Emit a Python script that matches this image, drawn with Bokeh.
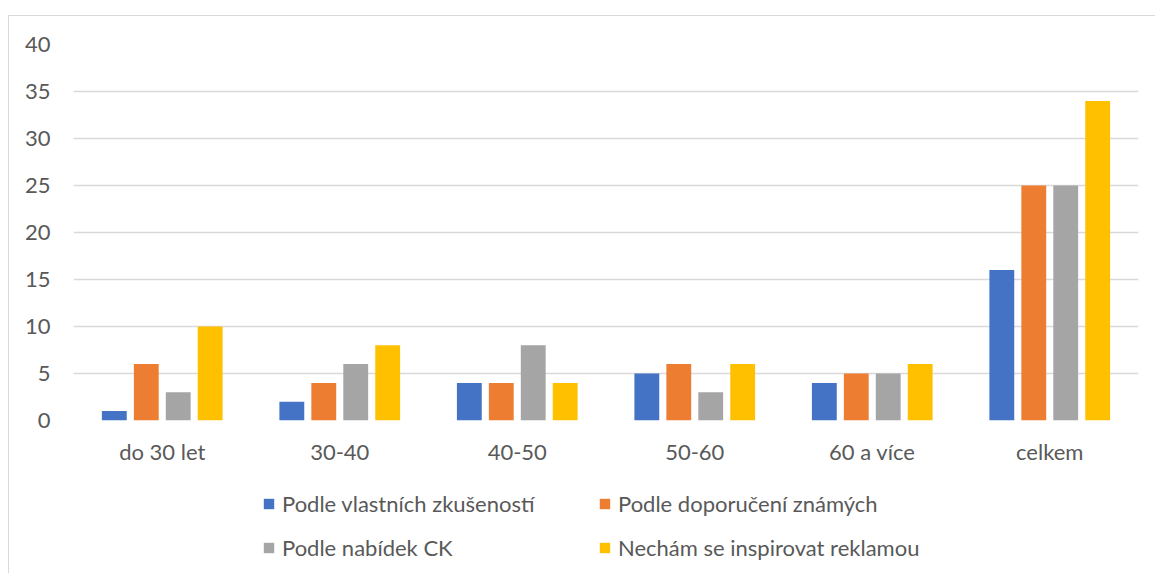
from bokeh.plotting import figure
from bokeh.models import ColumnDataSource, Legend, LegendItem, FactorRange
from bokeh.layouts import column
from bokeh.transform import dodge
from bokeh.embed import file_html
from bokeh.resources import INLINE

categories = ["do 30 let", "30-40", "40-50", "50-60", "60 a více", "celkem"]
series_names = ["Podle vlastních zkušeností", "Podle doporučení známých",
                "Podle nabídek CK", "Nechám se inspirovat reklamou"]
vlastni = [1, 2, 4, 5, 4, 16]
doporuceni = [6, 4, 4, 6, 5, 25]
nabidky = [3, 6, 8, 3, 5, 25]
reklama = [10, 8, 4, 6, 6, 34]
y_ticks = [0, 5, 10, 15, 20, 25, 30, 35, 40]

colors = ["#4472C4", "#ED7D31", "#A5A5A5", "#FFC000"]
offsets = [-0.27, -0.09, 0.09, 0.27]
FONT = "Lato"
TXT = "#595959"
BORDER = "1px solid #d9d9d9"

src = ColumnDataSource(dict(cat=categories, s0=vlastni, s1=doporuceni, s2=nabidky, s3=reklama))

p = figure(x_range=FactorRange(*categories, range_padding=0), y_range=(0, 40),
           width=1147, height=454, output_backend="svg", toolbar_location=None,
           min_border_left=64, min_border_right=18, min_border_top=28, min_border_bottom=50)
p.margin = (15, 0, 0, 8)
p.styles = {"border-top": BORDER, "border-left": BORDER}
p.outline_line_color = None
p.background_fill_color = "white"
p.border_fill_color = "white"

for i, key in enumerate(["s0", "s1", "s2", "s3"]):
    p.vbar(x=dodge("cat", offsets[i], range=p.x_range), top=key, width=0.14,
           source=src, fill_color=colors[i], line_color=None)

p.xgrid.grid_line_color = None
p.ygrid.grid_line_color = "#d9d9d9"
p.ygrid.grid_line_width = 1.3
p.yaxis.ticker = y_ticks
for ax in (p.xaxis[0], p.yaxis[0]):
    ax.axis_line_color = None
    ax.major_tick_line_color = None
    ax.minor_tick_line_color = None
    ax.major_label_text_font = FONT
    ax.major_label_text_font_size = "22px"
    ax.major_label_text_color = TXT
p.yaxis.major_label_standoff = 17
p.xaxis.major_label_standoff = 11

# legend strip below the chart (its frame is aligned with the chart's frame)
pl = figure(width=1147, height=104, x_range=(0, 1), y_range=(0, 1),
            output_backend="svg", toolbar_location=None,
            min_border_left=0, min_border_right=0, min_border_top=0, min_border_bottom=0)
pl.margin = (0, 0, 0, 8)
pl.styles = {"border-left": BORDER}
pl.axis.visible = False
pl.grid.visible = False
pl.outline_line_color = None
pl.background_fill_color = "white"
pl.border_fill_color = "white"

nan = float("nan")
legend_pos = [(189, 56), (525, 56), (189, 12), (525, 12)]
for i in range(4):
    r = pl.vbar(x=[nan], top=[nan], width=0.1, fill_color=colors[i], line_color=None)
    lg = Legend(items=[LegendItem(label=series_names[i], renderers=[r])],
                location=legend_pos[i], orientation="horizontal",
                padding=0, margin=0, border_line_color=None, background_fill_alpha=0,
                label_text_font=FONT, label_text_font_size="22px", label_text_color=TXT,
                glyph_width=13, glyph_height=13, label_standoff=7,
                label_height=26, spacing=0)
    pl.add_layout(lg, "center")

layout = column(p, pl, spacing=0)
open("out.html", "w").write(file_html(layout, INLINE))
